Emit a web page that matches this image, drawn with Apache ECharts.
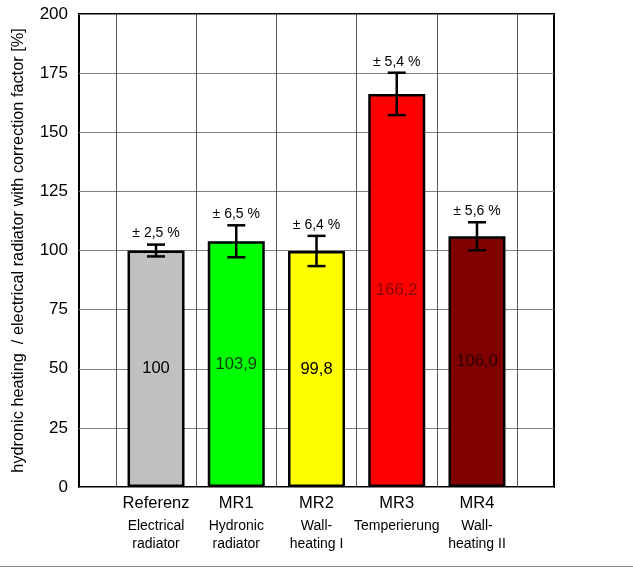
<!DOCTYPE html>
<html>
<head>
<meta charset="utf-8">
<script src="https://cdn.jsdelivr.net/npm/echarts@6/dist/echarts.min.js"></script>
<style>
    html, body { margin: 0; padding: 0; background: #fff; }
    #chart { width: 633px; height: 566px; border-bottom: 1px solid #8c8c8c; }
</style>
</head>
<body>
<div id="chart"></div>
<script>
// categories
var categories = ["Referenz", "MR1", "MR2", "MR3", "MR4"];
var subLabels = [["Electrical", "radiator"], ["Hydronic", "radiator"], ["Wall-", "heating I"], ["Temperierung"], ["Wall-", "heating II"]];
// bar values
var values = [100, 103.9, 99.8, 166.2, 106.0];
var valueLabels = ["100", "103,9", "99,8", "166,2", "106,0"];
// uncertainty in %
var errorPct = [2.5, 6.5, 6.4, 5.4, 5.6];
var barColors = ["#c0c0c0", "#00ff00", "#ffff00", "#ff0000", "#800000"];
var labelColors = ["#000000", "#0b3a0b", "#000000", "#8a0000", "#2a0000"];
// y ticks
var yTicks = [0, 25, 50, 75, 100, 125, 150, 175, 200];
// vertical grid lines between categories
var xGridLines = [-0.5, 0.5, 1.5, 2.5, 3.5, 4.5];

var font = "Liberation Sans, Arial, sans-serif";
var myChart = echarts.init(document.getElementById("chart"));

var barData = [];
var errData = [];
for (var i = 0; i < categories.length; i++) {
    barData.push({
        value: [i, values[i]],
        itemStyle: { color: barColors[i] },
        label: { color: labelColors[i] }
    });
    var d = values[i] * errorPct[i] / 100;
    errData.push([i, values[i] - d, values[i] + d, errorPct[i]]);
}

var option = {
    animation: false,
    grid: {
        left: 79, right: 79, top: 14, bottom: 79,
        show: true,
        borderColor: "#000",
        borderWidth: 2,
        backgroundColor: "transparent"
    },
    xAxis: {
        type: "value",
        min: -0.96,
        max: 4.96,
        axisLine: { show: false },
        axisTick: { show: false },
        splitLine: { show: false },
        axisLabel: {
            customValues: [0, 1, 2, 3, 4],
            margin: 2,
            formatter: function (v) {
                var i = Math.round(v);
                var s = "{a|" + categories[i] + "}";
                for (var k = 0; k < subLabels[i].length; k++) {
                    s += "\n{b|" + subLabels[i][k] + "}";
                }
                return s;
            },
            rich: {
                a: { fontFamily: font, fontSize: 16.5, color: "#000", lineHeight: 28 },
                b: { fontFamily: font, fontSize: 14, color: "#000", lineHeight: 18 }
            }
        }
    },
    yAxis: {
        type: "value",
        min: 0,
        max: 200,
        interval: 25,
        name: "hydronic heating  / electrical radiator with correction factor [%]",
        nameLocation: "middle",
        nameGap: 52,
        nameRotate: 90,
        nameTextStyle: { fontFamily: font, fontSize: 16.3, color: "#000" },
        axisLine: { show: false },
        axisTick: { show: false },
        axisLabel: {
            fontFamily: font, fontSize: 17, color: "#000", margin: 11,
            formatter: function (v) { return yTicks.indexOf(v) >= 0 ? String(v) : ""; }
        },
        splitLine: { show: true, lineStyle: { color: "#808080", width: 1 } }
    },
    series: [
        {
            type: "bar",
            data: barData,
            barWidth: 57,
            itemStyle: { borderColor: "#000", borderWidth: 2.5 },
            label: {
                show: true,
                position: "inside",
                fontFamily: font,
                fontSize: 16.5,
                formatter: function (p) { return valueLabels[p.dataIndex]; }
            },
            markLine: {
                silent: true,
                symbol: "none",
                label: { show: false },
                lineStyle: { color: "#555", width: 1, type: "solid" },
                data: xGridLines.map(function (x) { return { xAxis: x }; })
            },
            z: 2
        },
        {
            type: "custom",
            data: errData,
            z: 5,
            renderItem: function (params, api) {
                var x = api.value(0);
                var lo = api.coord([x, api.value(1)]);
                var hi = api.coord([x, api.value(2)]);
                var cap = 9;
                var st = { stroke: "#000", lineWidth: 2.5 };
                var txt = "± " + api.value(3).toFixed(1).replace(".", ",") + " %";
                return {
                    type: "group",
                    children: [
                        { type: "line", shape: { x1: lo[0], y1: lo[1], x2: hi[0], y2: hi[1] }, style: st },
                        { type: "line", shape: { x1: lo[0] - cap, y1: lo[1], x2: lo[0] + cap, y2: lo[1] }, style: st },
                        { type: "line", shape: { x1: hi[0] - cap, y1: hi[1], x2: hi[0] + cap, y2: hi[1] }, style: st },
                        {
                            type: "text",
                            style: {
                                x: hi[0], y: hi[1] - 4,
                                text: txt,
                                fill: "#000",
                                font: "14px " + font,
                                align: "center",
                                verticalAlign: "bottom"
                            }
                        }
                    ]
                };
            }
        }
    ]
};
myChart.setOption(option);
</script>
</body>
</html>
